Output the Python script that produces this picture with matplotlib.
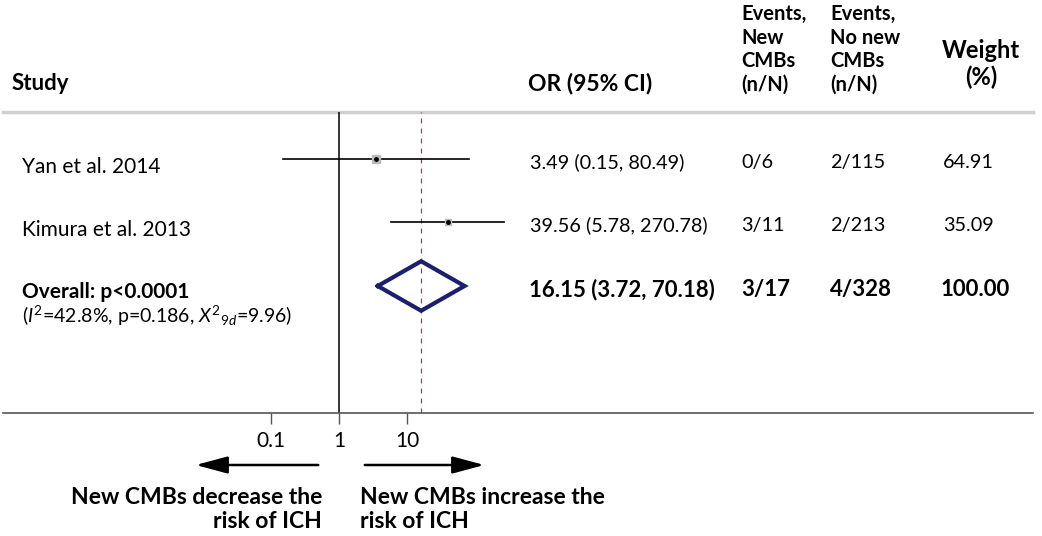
import matplotlib
matplotlib.use("Agg")
import matplotlib.pyplot as plt
import numpy as np

plt.rcParams['font.family'] = ['Lato', 'DejaVu Sans']
plt.rcParams['mathtext.fontset'] = 'custom'
plt.rcParams['mathtext.rm'] = 'Lato'
plt.rcParams['mathtext.it'] = 'Lato:italic'

# data
studies = ["Yan et al. 2014", "Kimura et al. 2013"]
or_est = [3.49, 39.56]
ci_lo = [0.15, 5.78]
ci_hi = [80.49, 270.78]
ev_new = ["0/6", "3/11"]
ev_none = ["2/115", "2/213"]
weights = [64.91, 35.09]

pooled_or = 16.15
pooled_lo = 3.72
pooled_hi = 70.18
pooled_new = "3/17"
pooled_none = "4/328"
pooled_weight = 100.00

tick_vals = [0.1, 1, 10]
tick_labels = ["0.1", "1", "10"]

W, H = 1042, 536
fig = plt.figure(figsize=(W / 100, H / 100), dpi=100)
fig.patch.set_facecolor("white")


def fx(x):
    return x / W


def fy(y):
    return 1 - y / H


# forest axes: spans pixel x 3..1033, y 112..413
ax = fig.add_axes([fx(3), fy(413), fx(1033) - fx(3), fy(112) - fy(413)])
ax.set_xscale("log")
dec = 68.0
ax.set_xlim(10 ** ((3 - 339) / dec), 10 ** ((1033 - 339) / dec))
ax.set_ylim(5.0, 0.26)
for s in ["top", "right", "left"]:
    ax.spines[s].set_visible(False)
ax.spines["bottom"].set_color("#555555")
ax.spines["bottom"].set_linewidth(1.2)
ax.set_yticks([])
ax.set_xticks(tick_vals)
ax.set_xticklabels(tick_labels, fontsize=15)
ax.xaxis.set_minor_locator(matplotlib.ticker.NullLocator())
ax.tick_params(axis="x", length=8, color="#555555", width=1, pad=5)
ax.axhline(0.26, color="#d0d0d0", lw=2.5, clip_on=False)

ax.axvline(1, color="black", lw=1.1)
ax.axvline(pooled_or, color="#a0405a", lw=0.9, ls=(0, (4, 4)))

rows = np.arange(1, len(studies) + 1)
for i, r in enumerate(rows):
    ax.plot([ci_lo[i], ci_hi[i]], [r, r], color="black", lw=1.2)
    ax.plot(or_est[i], r, marker="s", ms=np.sqrt(weights[i]) * 0.8,
            color="#bbbbbb", mec="#bbbbbb")
    ax.plot(or_est[i], r, marker="o", ms=2.5, color="black")

rp = len(studies) + 1
dh = 0.39
ax.plot([pooled_lo, pooled_or, pooled_hi, pooled_or, pooled_lo],
        [rp, rp - dh, rp, rp + dh, rp], color="#1b1f6e", lw=3,
        solid_joinstyle="miter")

# headers
fs = 15
fv = 14.3
fb = 16.5
fp = 16
bw = "bold"
fig.text(fx(12), fy(84), "Study", fontsize=16, fontweight=bw, va="center")
fig.text(fx(528), fy(84), "OR (95% CI)", fontsize=fb, fontweight=bw, va="center")
for k, line in enumerate(["Events,", "New", "CMBs", "(n/N)"]):
    fig.text(fx(741), fy(14 + 23.5 * k), line, fontsize=14.5, fontweight=bw, va="center")
for k, line in enumerate(["Events,", "No new", "CMBs", "(n/N)"]):
    fig.text(fx(830), fy(14 + 23.5 * k), line, fontsize=14.5, fontweight=bw, va="center")
fig.text(fx(981), fy(50), "Weight", fontsize=17, fontweight=bw, va="center", ha="center")
fig.text(fx(981), fy(77), "(%)", fontsize=17, fontweight=bw, va="center", ha="center")

# study rows
trans = matplotlib.transforms.blended_transform_factory(fig.transFigure, ax.transData)
for i, r in enumerate(rows):
    ax.text(fx(22), r + 0.12, studies[i], transform=trans, fontsize=fs, va="center")
    ax.text(fx(530), r + 0.05, f"{or_est[i]:.2f} ({ci_lo[i]:.2f}, {ci_hi[i]:.2f})",
            transform=trans, fontsize=fv, va="center")
    ax.text(fx(741), r + 0.05, ev_new[i], transform=trans, fontsize=fv, va="center")
    ax.text(fx(830), r + 0.05, ev_none[i], transform=trans, fontsize=fv, va="center")
    ax.text(fx(943), r + 0.05, f"{weights[i]:.2f}", transform=trans, fontsize=fv,
            va="center")

ax.text(fx(22), rp + 0.1, "Overall: p<0.0001", transform=trans, fontsize=15,
        fontweight=bw, va="center")
ax.text(fx(22), rp + 0.47, r"($\mathit{I}^2$=42.8%, p=0.186, $\mathit{X}^2{}_{9d}$=9.96)",
        transform=trans, fontsize=14, va="center")
ax.text(fx(529), rp + 0.05, f"{pooled_or:.2f} ({pooled_lo:.2f}, {pooled_hi:.2f})",
        transform=trans, fontsize=fp, fontweight=bw, va="center")
ax.text(fx(741), rp + 0.05, pooled_new, transform=trans, fontsize=fp, fontweight=bw,
        va="center")
ax.text(fx(830), rp + 0.05, pooled_none, transform=trans, fontsize=fp, fontweight=bw,
        va="center")
ax.text(fx(941), rp + 0.05, f"{pooled_weight:.2f}", transform=trans, fontsize=fp,
        fontweight=bw, va="center")

# arrows and direction labels
arrow_kw = dict(arrowstyle="-|>,head_length=1.3,head_width=0.35", color="black",
                lw=1.8, mutation_scale=15)
fig.add_artist(matplotlib.patches.FancyArrowPatch((fx(321), fy(465)), (fx(193), fy(465)),
                                                  transform=fig.transFigure, **arrow_kw))
fig.add_artist(matplotlib.patches.FancyArrowPatch((fx(362), fy(465)), (fx(487), fy(465)),
                                                  transform=fig.transFigure, **arrow_kw))
fig.text(fx(322), fy(497), "New CMBs decrease the", fontsize=fb, fontweight=bw,
         ha="right", va="center")
fig.text(fx(322), fy(522), "risk of ICH", fontsize=fb, fontweight=bw, ha="right", va="center")
fig.text(fx(360), fy(497), "New CMBs increase the", fontsize=fb, fontweight=bw,
         ha="left", va="center")
fig.text(fx(360), fy(522), "risk of ICH", fontsize=fb, fontweight=bw, ha="left", va="center")

fig.savefig("out.png", dpi=100, facecolor="white")
